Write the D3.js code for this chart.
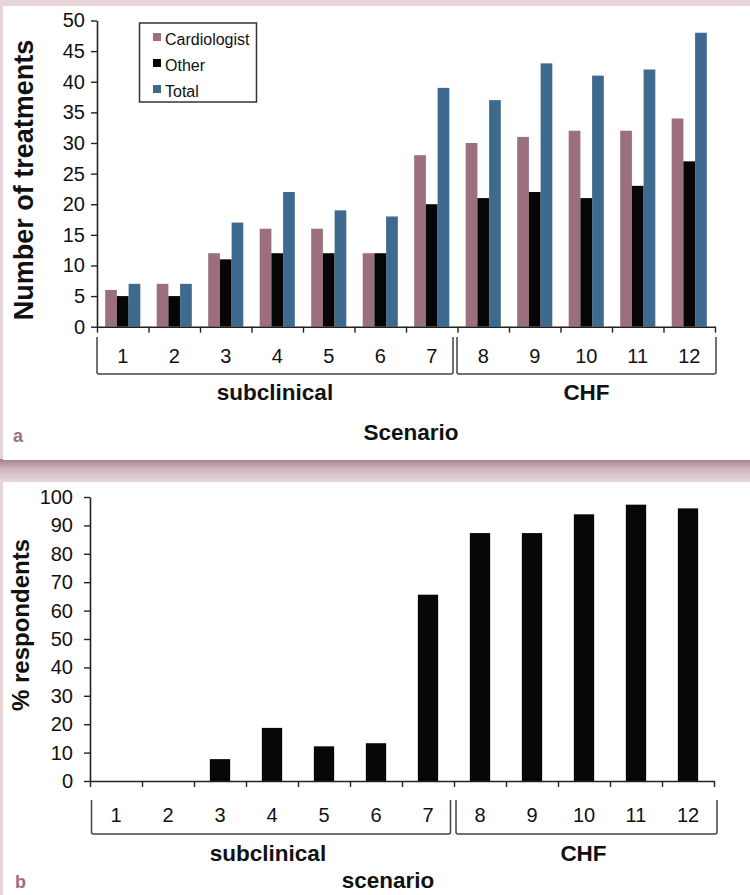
<!DOCTYPE html>
<html>
<head>
<meta charset="utf-8">
<script src="https://cdn.jsdelivr.net/npm/d3@7"></script>
<style>
  html, body { margin: 0; padding: 0; background: #e6d4d9; }
  svg { display: block; }
  text { font-family: "Liberation Sans", Arial, Helvetica, sans-serif; fill: #111; }
</style>
</head>
<body>
<svg id="fig" width="750" height="895"></svg>
<script>
// Scenario categories shared by both panels
const scenarios = ["1", "2", "3", "4", "5", "6", "7", "8", "9", "10", "11", "12"];

// Panel a: number of treatments per scenario
const cardiologist = [6, 7, 12, 16, 16, 12, 28, 30, 31, 32, 32, 34];
const other        = [5, 5, 11, 12, 12, 12, 20, 21, 22, 21, 23, 27];
const total        = [7, 7, 17, 22, 19, 18, 39, 37, 43, 41, 42, 48];
const seriesNames  = ["Cardiologist", "Other", "Total"];
const treatmentTicks = [0, 5, 10, 15, 20, 25, 30, 35, 40, 45, 50];

// Panel b: % respondents per scenario
const respondents = [0, 0, 7.7, 18.7, 12.2, 13.3, 65.6, 87.3, 87.3, 93.9, 97.3, 96.0];
const percentTicks = [0, 10, 20, 30, 40, 50, 60, 70, 80, 90, 100];

// Scenario groupings shown under the axis
const groupNames = ["subclinical", "CHF"];
const groupFirst = ["1", "8"];
const groupLast  = ["7", "12"];

const colors = { Cardiologist: "#9c6f7e", Other: "#060606", Total: "#3f6a90" };
const svg = d3.select("#fig");

// ---- panel backgrounds ----
const defs = svg.append("defs");
const grad = defs.append("linearGradient").attr("id", "shade")
  .attr("x1", 0).attr("y1", 0).attr("x2", 0).attr("y2", 1);
grad.append("stop").attr("offset", "0%").attr("stop-color", "#a57d8b");
grad.append("stop").attr("offset", "45%").attr("stop-color", "#cfb3bc");
grad.append("stop").attr("offset", "100%").attr("stop-color", "#e6d4d9");

svg.append("rect").attr("x", 0).attr("y", 0).attr("width", 750).attr("height", 895).attr("fill", "#e6d4d9");
svg.append("rect").attr("x", 0).attr("y", 459).attr("width", 750).attr("height", 22).attr("fill", "url(#shade)");
svg.append("rect").attr("x", 3).attr("y", 6).attr("width", 747).attr("height", 454).attr("fill", "#fff");
svg.append("rect").attr("x", 3).attr("y", 482).attr("width", 747).attr("height", 413).attr("fill", "#fff");

// ---- shared helpers ----
function drawCategoryAxis(g, x, y0, cfg) {
  // axis line with tick marks at category boundaries
  const edge = d3.scaleLinear().domain([0, scenarios.length]).range(x.range());
  const ax = g.append("g").attr("transform", `translate(0,${y0})`)
    .call(d3.axisBottom(edge).tickValues(d3.range(0, scenarios.length + 1))
      .tickFormat("").tickSize(6).tickSizeOuter(0));
  ax.select(".domain").attr("stroke", "#222").attr("stroke-width", 1.6);
  ax.selectAll(".tick line").attr("stroke", "#222").attr("stroke-width", 1.4);

  // scenario numbers
  g.append("g").selectAll("text").data(scenarios).join("text")
    .attr("x", d => x(d) + x.bandwidth() / 2)
    .attr("y", cfg.numY)
    .attr("text-anchor", "middle")
    .style("font-size", "20px")
    .text(d => d);

  // brackets for the scenario groups
  groupNames.forEach((name, i) => {
    const left = x(groupFirst[i]) + (i === 0 ? cfg.outer0 : cfg.innerR);
    const right = x(groupLast[i]) + x.bandwidth() + (i === 0 ? cfg.innerL : cfg.outer1);
    g.append("path")
      .attr("d", `M${left},${cfg.brTop}V${cfg.brBot - 2}Q${left},${cfg.brBot} ${left + 2},${cfg.brBot}` +
                 `H${right - 2}Q${right},${cfg.brBot} ${right},${cfg.brBot - 2}V${cfg.brTop}`)
      .attr("fill", "none").attr("stroke", "#444").attr("stroke-width", 1.5);
    g.append("text")
      .attr("x", (left + right) / 2 + cfg.groupShift)
      .attr("y", cfg.groupY)
      .attr("text-anchor", "middle")
      .style("font-size", "22.5px").style("font-weight", "bold")
      .text(name);
  });
}

function drawValueAxis(g, y, x0, ticks, pad) {
  const ax = g.append("g").attr("transform", `translate(${x0},0)`)
    .call(d3.axisLeft(y).tickValues(ticks).tickSize(6).tickSizeOuter(0).tickPadding(pad));
  ax.select(".domain").attr("stroke", "#222").attr("stroke-width", 1.6);
  ax.selectAll(".tick line").attr("stroke", "#222").attr("stroke-width", 1.4);
  ax.selectAll(".tick text").style("font-size", "20px").attr("fill", "#111")
    .style("font-family", "'Liberation Sans', Arial, sans-serif");
}

// ---- panel a ----
const gA = svg.append("g");
const xA = d3.scaleBand().domain(scenarios).range([97, 715]).paddingInner(0).paddingOuter(0);
const xSeries = d3.scaleBand().domain(seriesNames).range([0, xA.bandwidth()]).paddingInner(0).paddingOuter(0.7);
const yA = d3.scaleLinear().domain([0, 50]).range([326.7, 20.5]);
const seriesValues = { Cardiologist: cardiologist, Other: other, Total: total };

const rowsA = scenarios.map((s, i) => seriesNames.map(n => ({ s, n, v: seriesValues[n][i] })));
gA.append("g").selectAll("g").data(rowsA).join("g")
  .selectAll("rect").data(d => d).join("rect")
  .attr("x", d => xA(d.s) + xSeries(d.n))
  .attr("width", xSeries.bandwidth())
  .attr("y", d => yA(d.v))
  .attr("height", d => yA(0) - yA(d.v))
  .attr("fill", d => colors[d.n]);

drawValueAxis(gA, yA, 97, treatmentTicks, 6);
drawCategoryAxis(gA, xA, 326.7, {
  numY: 363, brTop: 337, brBot: 374, outer0: 0, innerL: -4.5, innerR: -0.5, outer1: 1,
  groupY: 400, groupShift: 0
});

gA.append("text")
  .attr("transform", "translate(33,180) rotate(-90)")
  .attr("text-anchor", "middle")
  .style("font-size", "27px").style("font-weight", "bold")
  .text("Number of treatments");
gA.append("text").attr("x", 411).attr("y", 440).attr("text-anchor", "middle")
  .style("font-size", "22.5px").style("font-weight", "bold").text("Scenario");
gA.append("text").attr("x", 13).attr("y", 442)
  .style("font-size", "18px").style("font-weight", "bold").style("fill", "#9c6f7e").text("a");

// legend
const leg = gA.append("g");
leg.append("rect").attr("x", 139.5).attr("y", 23).attr("width", 117).attr("height", 79)
  .attr("fill", "#fff").attr("stroke", "#333").attr("stroke-width", 1.5);
const legRows = leg.selectAll("g").data(seriesNames).join("g")
  .attr("transform", (d, i) => `translate(153,${33 + i * 26})`);
legRows.append("rect").attr("width", 8).attr("height", 8).attr("fill", d => colors[d]);
legRows.append("text").attr("x", 12).attr("y", 12).style("font-size", "16px").text(d => d);

// ---- panel b ----
const gB = svg.append("g");
const xB = d3.scaleBand().domain(scenarios).range([90, 714]).paddingInner(0).paddingOuter(0);
const yB = d3.scaleLinear().domain([0, 100]).range([781, 497]);
const barW = 0.39;

gB.append("g").selectAll("rect").data(scenarios.map((s, i) => ({ s, v: respondents[i] }))).join("rect")
  .attr("x", d => xB(d.s) + xB.bandwidth() * (1 - barW) / 2)
  .attr("width", xB.bandwidth() * barW)
  .attr("y", d => yB(d.v))
  .attr("height", d => yB(0) - yB(d.v))
  .attr("fill", "#060606");

drawValueAxis(gB, yB, 90, percentTicks, 11);
drawCategoryAxis(gB, xB, 781, {
  numY: 822, brTop: 800, brBot: 834, outer0: 1.5, innerL: -3.5, innerR: 2, outer1: 3,
  groupY: 861, groupShift: -3
});

gB.append("text")
  .attr("transform", "translate(29,625) rotate(-90)")
  .attr("text-anchor", "middle")
  .style("font-size", "24px").style("font-weight", "bold")
  .text("% respondents");
gB.append("text").attr("x", 388).attr("y", 888).attr("text-anchor", "middle")
  .style("font-size", "22.5px").style("font-weight", "bold").text("scenario");
gB.append("text").attr("x", 15).attr("y", 888)
  .style("font-size", "18px").style("font-weight", "bold").style("fill", "#9c6f7e").text("b");
</script>
</body>
</html>
